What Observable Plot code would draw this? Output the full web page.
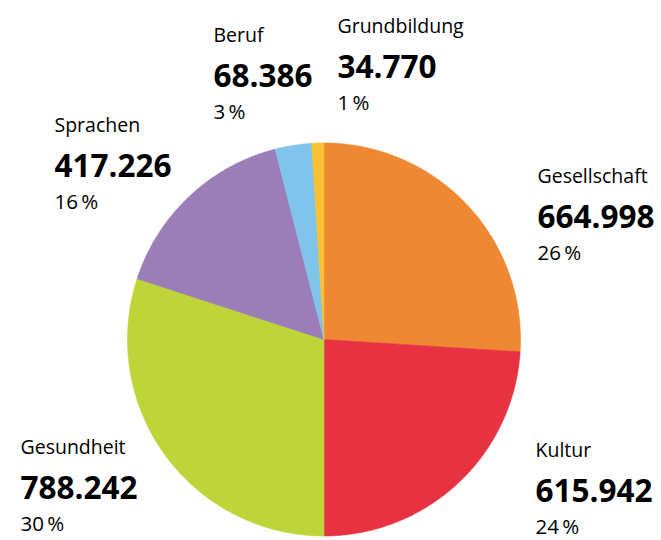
<!DOCTYPE html>
<html>
<head>
<meta charset="utf-8">
<script src="https://cdn.jsdelivr.net/npm/d3@7"></script>
<script src="https://cdn.jsdelivr.net/npm/@observablehq/plot@0.6"></script>
<style>
  html, body { margin: 0; padding: 0; background: #fff; }
  #chart svg { display: block; }
</style>
</head>
<body>
<div id="chart"></div>
<script>
// ---- data ----
const categories = ["Gesellschaft", "Kultur", "Gesundheit", "Sprachen", "Beruf", "Grundbildung"];
const counts = [664998, 615942, 788242, 417226, 68386, 34770];
const percents = [26, 24, 30, 16, 3, 1];
const colors = ["#EE8833", "#E63241", "#BED53A", "#9B7DB7", "#80C4EC", "#F7C132"];

// ---- layout (pixels) ----
const W = 661, H = 540;
const CX = 323.5, CY = 339, R = 196.5;
const labelAnchors = [[537, 182], [535, 456], [20, 453], [54, 131], [213, 41], [337, 32]];

const fmt = d3.formatLocale({decimal: ",", thousands: ".", grouping: [3], currency: ["", ""]}).format(",d");

// slice outlines from percent shares (clockwise from 12 o'clock)
const total = d3.sum(percents);
const slicePts = [];
let acc = 0;
categories.forEach((c, i) => {
  const a0 = acc / total * 2 * Math.PI;
  acc += percents[i];
  const a1 = acc / total * 2 * Math.PI;
  const n = Math.max(2, Math.ceil((a1 - a0) / (Math.PI / 360)));
  slicePts.push({cat: c, x: 0, y: 0});
  for (let k = 0; k <= n; k++) {
    const a = a0 + (a1 - a0) * k / n;
    slicePts.push({cat: c, x: Math.sin(a), y: Math.cos(a)});
  }
  slicePts.push({cat: c, x: 0, y: 0});
});

const labels = categories.map((c, i) => ({
  cat: c,
  value: fmt(counts[i]),
  pct: percents[i] + "\u2009%",
  x: (labelAnchors[i][0] - CX) / R,
  y: (CY - labelAnchors[i][1]) / R
}));

const font = "'Open Sans', 'Noto Sans', sans-serif";

const plot = Plot.plot({
  width: W,
  height: H,
  margin: 0,
  style: {fontFamily: font, background: "#fff"},
  x: {domain: [-CX / R, (W - CX) / R], axis: null},
  y: {domain: [(CY - H) / R, CY / R], axis: null},
  color: {domain: categories, range: colors},
  marks: [
    Plot.line(slicePts, {x: "x", y: "y", z: "cat", fill: "cat", stroke: "cat", strokeWidth: 0.6, curve: "linear"}),
    Plot.text(labels, {x: "x", y: "y", text: "cat", textAnchor: "start", lineAnchor: "bottom", fontSize: 19.5, fill: "#000", fontFamily: font}),
    Plot.text(labels, {x: "x", y: "y", text: "value", dy: 45, textAnchor: "start", lineAnchor: "bottom", fontSize: 31.5, fontWeight: "bold", fill: "#000", fontFamily: font}),
    Plot.text(labels, {x: "x", y: "y", text: "pct", dy: 77, textAnchor: "start", lineAnchor: "bottom", fontSize: 20.5, fill: "#000", fontFamily: font})
  ]
});
document.getElementById("chart").appendChild(plot);
</script>
</body>
</html>
